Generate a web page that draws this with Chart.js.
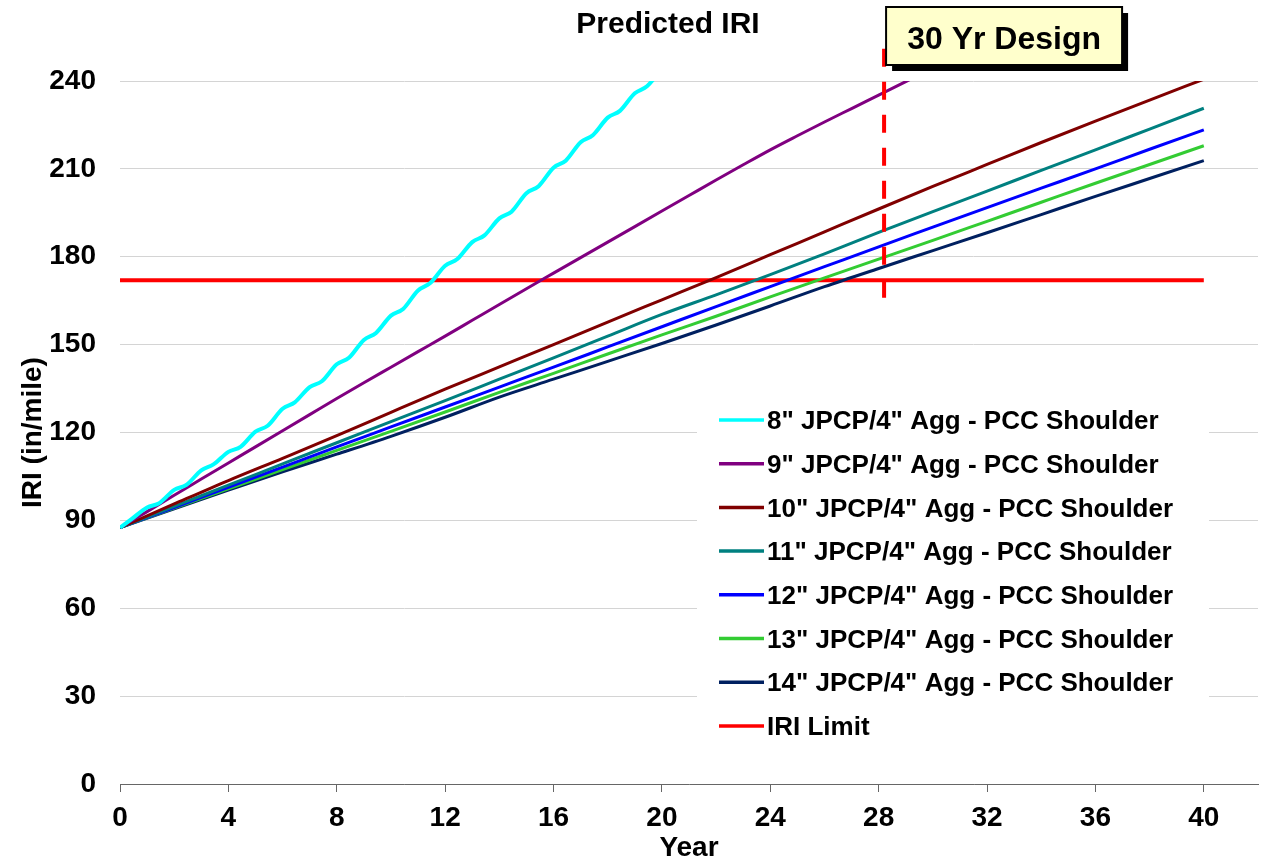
<!DOCTYPE html>
<html>
<head>
<meta charset="utf-8">
<title>Predicted IRI</title>
<script src="https://cdn.jsdelivr.net/npm/chart.js@4"></script>
<style>
  html, body { margin: 0; padding: 0; background: #ffffff; }
</style>
</head>
<body>
<canvas id="chart" width="1263" height="859"></canvas>
<script>
// values (IRI in in/mile vs year)
const chartTitle = "Predicted IRI";
const designLabel = "30 Yr Design";
const designYear = 28.2;
const designSpan = [166, 252];
const iriLimit = 172;
const limitYears = [0, 40];

// 8" slab climbs fast and wobbles once a year
const yearsCyan = [0, 0.45, 1, 1.45, 2, 2.45, 3, 3.45, 4, 4.45, 5, 5.45, 6, 6.45, 7, 7.45, 8, 8.45, 9, 9.45,
  10, 10.45, 11, 11.45, 12, 12.45, 13, 13.45, 14, 14.45, 15, 15.45, 16, 16.45, 17, 17.45, 18, 18.45, 19, 19.45, 20];
const iri8 = [87.5, 90.6, 94.4, 95.9, 100.4, 102.1, 107.1, 109.1, 113.4, 115.1, 120.3, 122.3, 128.1, 130.3, 135.5, 137.5,
  143.3, 145.5, 151.6, 154.0, 159.9, 162.2, 168.5, 171.0, 176.9, 179.2, 185.0, 187.3, 193.1, 195.4, 201.7, 204.1,
  210.4, 212.8, 219.1, 221.5, 227.5, 229.8, 235.8, 238.2, 244.2];

const yearsPurple = [0, 1, 2, 3, 4, 5, 6, 7, 8, 9, 10, 11, 12, 13, 14, 15, 16, 17, 18, 19, 20, 21, 22, 23, 24, 25, 26, 27, 28, 29, 30];
const iri9 = [87.5, 93.0, 98.6, 104.1, 109.6, 115.1, 120.6, 126.1, 131.6, 137.0, 142.3, 147.6, 152.9, 158.3, 163.7, 169.1,
  174.4, 179.7, 185.0, 190.3, 195.6, 200.9, 206.2, 211.4, 216.5, 221.3, 226.0, 230.6, 235.2, 239.8, 244.4];

const years = [0, 2, 4, 6, 8, 10, 12, 14, 16, 18, 20, 22, 24, 26, 28, 30, 32, 34, 36, 38, 40];
const iri10 = [87.5, 95.6, 103.6, 111.2, 118.9, 126.9, 134.8, 142.4, 150.0, 157.7, 165.3, 172.9, 180.7, 188.5, 196.3, 204.0, 211.5, 219.0, 226.3, 233.5, 240.6];
const iri11 = [87.5, 94.8, 102.0, 109.3, 116.5, 123.7, 130.9, 138.2, 145.5, 152.9, 160.3, 167.0, 173.9, 181.0, 188.3, 195.4, 202.4, 209.5, 216.5, 223.6, 230.7];
const iri12 = [87.5, 94.4, 101.3, 108.2, 115.1, 121.9, 128.7, 135.5, 142.3, 149.2, 156.1, 163.0, 169.8, 176.6, 183.4, 190.1, 196.8, 203.4, 210.0, 216.7, 223.3];
const iri13 = [87.5, 94.2, 100.8, 107.3, 113.9, 120.4, 127.0, 133.7, 140.2, 146.8, 153.3, 159.7, 166.3, 172.8, 179.2, 185.6, 192.1, 198.6, 205.1, 211.5, 217.9];
const iri14 = [87.5, 93.9, 100.3, 106.6, 112.6, 118.7, 125.2, 132.1, 138.2, 144.3, 150.4, 156.7, 163.2, 169.8, 176.0, 182.1, 188.2, 194.4, 200.6, 206.7, 212.8];

const FONT = '"Liberation Sans", Arial, sans-serif';

function pts(xs, ys) {
  return xs.map((x, i) => ({ x: x, y: ys[i] }));
}

function series(label, xs, ys, color, width) {
  return {
    label: label,
    data: pts(xs, ys),
    borderColor: color,
    backgroundColor: color,
    borderWidth: width || 3,
    pointRadius: 0,
    cubicInterpolationMode: 'monotone',
    fill: false
  };
}

const datasets = [
  {
    label: 'design',
    inLegend: false,
    data: pts([designYear, designYear], designSpan),
    borderColor: '#ff0000',
    borderWidth: 4,
    borderDash: [18, 15],
    pointRadius: 0,
    clip: false
  },
  series('8" JPCP/4" Agg - PCC Shoulder', yearsCyan, iri8, '#00ffff', 4),
  series('9" JPCP/4" Agg - PCC Shoulder', yearsPurple, iri9, '#800080'),
  series('10" JPCP/4" Agg - PCC Shoulder', years, iri10, '#800000'),
  series('11" JPCP/4" Agg - PCC Shoulder', years, iri11, '#008080'),
  series('12" JPCP/4" Agg - PCC Shoulder', years, iri12, '#0000ff'),
  series('13" JPCP/4" Agg - PCC Shoulder', years, iri13, '#33cc33'),
  series('14" JPCP/4" Agg - PCC Shoulder', years, iri14, '#002060'),
  series('IRI Limit', limitYears, [iriLimit, iriLimit], '#ff0000', 4)
];

// title, design call-out and the boxed legend inside the plot
const overlay = {
  id: 'overlay',
  afterDraw(chart) {
    const { ctx, chartArea, scales } = chart;
    ctx.save();

    ctx.fillStyle = '#000';
    ctx.font = 'bold 30px ' + FONT;
    ctx.textAlign = 'center';
    ctx.textBaseline = 'middle';
    ctx.fillText(chartTitle, (chartArea.left + chartArea.right) / 2 - 21, 25);

    // 30 Yr Design box
    const bx = scales.x.getPixelForValue(designYear) + 2;
    const by = 7, bw = 236, bh = 58;
    ctx.fillStyle = '#000';
    ctx.fillRect(bx + 6, by + 6, bw, bh);
    ctx.fillStyle = '#ffffcc';
    ctx.fillRect(bx, by, bw, bh);
    ctx.lineWidth = 2;
    ctx.strokeStyle = '#000';
    ctx.strokeRect(bx, by, bw, bh);
    ctx.fillStyle = '#000';
    ctx.font = 'bold 32px ' + FONT;
    ctx.fillText(designLabel, bx + bw / 2, by + bh / 2 + 4);

    // legend
    const items = chart.data.datasets.filter(d => d.inLegend !== false);
    const lx = chartArea.right - 539;
    const ly = chartArea.top + 339;
    const rowH = 43.7;
    ctx.fillStyle = '#fff';
    ctx.fillRect(chartArea.left + 577, chartArea.top + 317, 512, 352);
    ctx.font = 'bold 26px ' + FONT;
    ctx.textAlign = 'left';
    items.forEach((d, i) => {
      const y = ly + i * rowH;
      ctx.strokeStyle = d.borderColor;
      ctx.lineWidth = 3.5;
      ctx.beginPath();
      ctx.moveTo(lx, y);
      ctx.lineTo(lx + 45, y);
      ctx.stroke();
      ctx.fillStyle = '#000';
      ctx.fillText(d.label, lx + 48, y + 2);
    });
    ctx.restore();
  }
};

new Chart(document.getElementById('chart'), {
  type: 'line',
  data: { datasets: datasets },
  plugins: [overlay],
  options: {
    responsive: false,
    animation: false,
    devicePixelRatio: 1,
    layout: { padding: { top: 81, right: 5, left: 0, bottom: 0 } },
    plugins: {
      legend: { display: false },
      title: { display: false },
      tooltip: { enabled: false }
    },
    scales: {
      x: {
        type: 'linear',
        min: 0,
        max: 42,
        ticks: {
          stepSize: 4,
          includeBounds: false,
          color: '#000',
          padding: 9,
          maxRotation: 0,
          font: { family: FONT, size: 28, weight: 'bold' }
        },
        grid: { drawOnChartArea: false, drawTicks: true, tickLength: 8, color: '#666666' },
        border: { display: true, color: '#666666', width: 1 },
        title: {
          display: true,
          text: 'Year',
          color: '#000',
          padding: 0,
          font: { family: FONT, size: 28, weight: 'bold', lineHeight: 0.75 }
        },
        afterFit(scale) { scale.height = 75; }
      },
      y: {
        min: 0,
        max: 240,
        ticks: {
          stepSize: 30,
          color: '#000',
          padding: 24,
          font: { family: FONT, size: 28, weight: 'bold' }
        },
        grid: { color: '#d4d4d4', lineWidth: 1, drawTicks: false },
        border: { display: false },
        title: {
          display: true,
          text: 'IRI (in/mile)',
          color: '#000',
          padding: { top: 19, bottom: 0 },
          font: { family: FONT, size: 28, weight: 'bold', lineHeight: 1 }
        },
        afterFit(scale) { scale.width = 120; }
      }
    }
  }
});
</script>
</body>
</html>
